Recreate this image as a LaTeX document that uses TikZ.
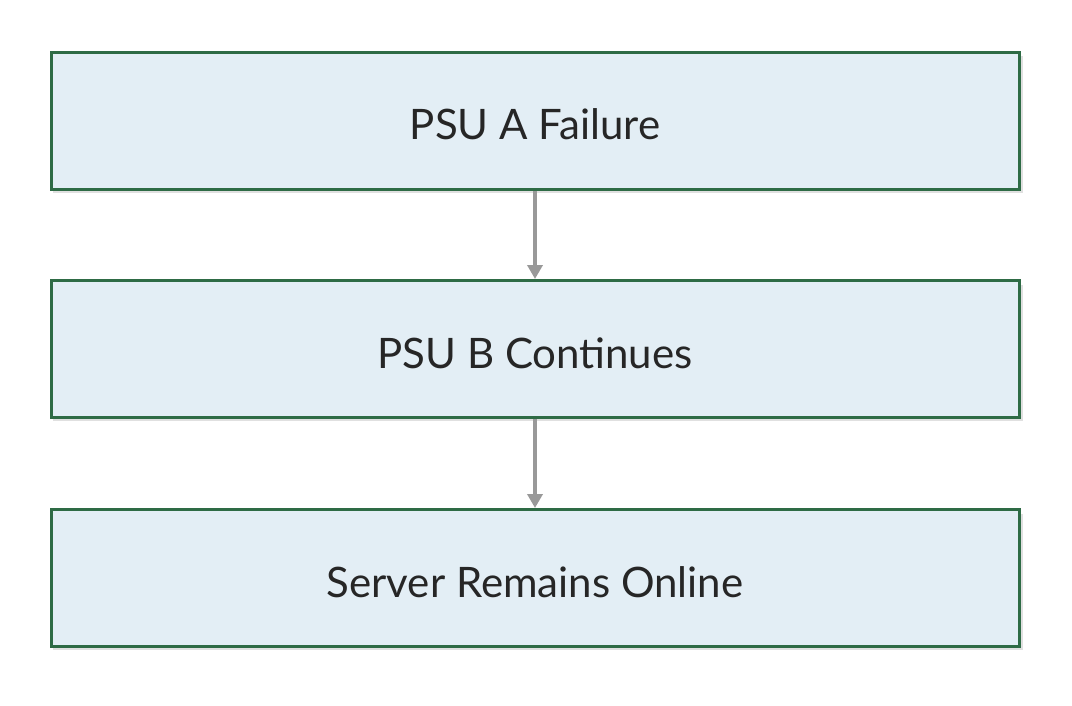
\documentclass[tikz,border=0pt]{standalone}
\usepackage{fontspec}
\setmainfont{Lato}
\usetikzlibrary{arrows.meta}
\definecolor{bfill}{HTML}{E3EEF5}
\definecolor{bdraw}{HTML}{2E6B45}
\definecolor{arr}{HTML}{999999}
\begin{document}
\begin{tikzpicture}[x=1pt,y=-1pt,
  box/.style={draw=bdraw,fill=bfill,line width=3pt,minimum width=968pt,minimum height=137pt,inner sep=0pt,font=\fontsize{42}{50}\selectfont,text=black!85},
  conn/.style={draw=arr,line width=3.5pt,-{Triangle[length=14pt,width=15pt]}}]
\useasboundingbox (0,0) rectangle (1072,705);
\fill[black!12] (53,56) rectangle (1023,193);
\fill[black!12] (53,285) rectangle (1023,421);
\fill[black!12] (53,514) rectangle (1023,650);
\node[box] (a) at (535,120.5) {};
\node[box] (b) at (535,349) {};
\node[box] (c) at (535,578) {};
\node[font=\fontsize{42}{50}\selectfont,text=black!85] at (535,124) {PSU A Failure};
\node[font=\fontsize{42}{50}\selectfont,text=black!85] at (535,353) {PSU B Continues};
\node[font=\fontsize{42}{50}\selectfont,text=black!85] at (535,582) {Server Remains Online};
\draw[conn] (a) -- (b);
\draw[conn] (b) -- (c);
\end{tikzpicture}
\end{document}
